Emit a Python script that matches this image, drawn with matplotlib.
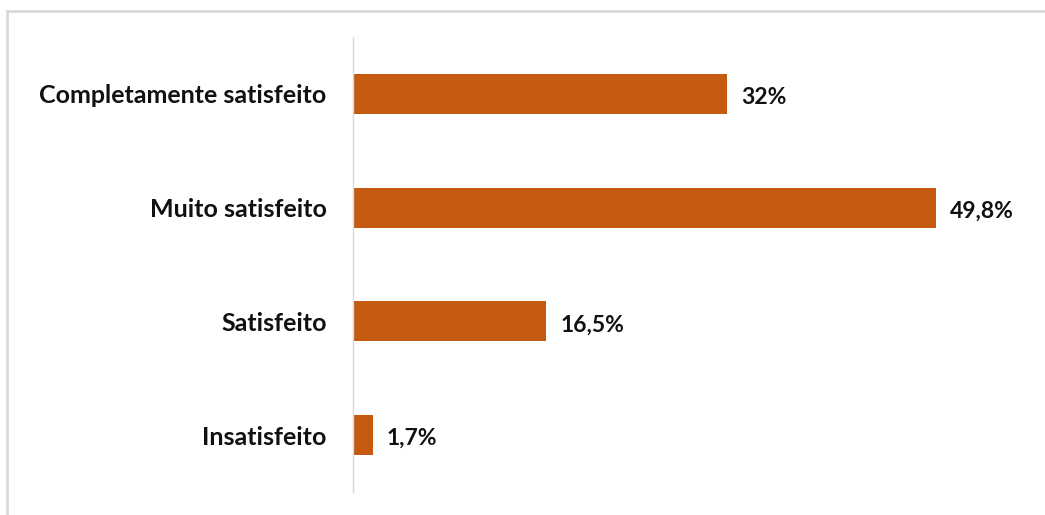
import matplotlib.pyplot as plt
from matplotlib.lines import Line2D

categorias = ["Completamente satisfeito", "Muito satisfeito", "Satisfeito", "Insatisfeito"]
valores = [32.0, 49.8, 16.5, 1.7]
rotulos = ["32%", "49,8%", "16,5%", "1,7%"]

plt.rcParams['font.family'] = ['Lato', 'DejaVu Sans']

fig = plt.figure(figsize=(10.45, 5.15), dpi=100)
ax = fig.add_axes([353 / 1045, 1 - 492 / 515, (1000 - 353) / 1045, (492 - 37) / 515])

pos = list(range(len(categorias)))
ax.barh(pos, valores, height=0.35, color="#C55A11")
for p, v, r in zip(pos, valores, rotulos):
    ax.text(v + 1.2, p + 0.03, r, va="center", ha="left", fontsize=16.5,
            fontweight="bold", color="#111111")

ax.set_ylim(3.5, -0.5)
ax.set_xlim(0, (1000 - 353) / 11.7)
ax.set_yticks(pos)
ax.set_yticklabels(categorias, fontsize=18, fontweight="bold", color="#111111")
ax.tick_params(axis="y", length=0, pad=19)
ax.set_xticks([])
for s in ["top", "right", "bottom"]:
    ax.spines[s].set_visible(False)
ax.spines["left"].set_color("#d9d9d9")
ax.spines["left"].set_linewidth(1)

# moldura cinza clara do gráfico
fig.add_artist(Line2D([7 / 1045, 1], [1 - 11 / 515, 1 - 11 / 515],
                      transform=fig.transFigure, color="#d9d9d9", lw=2))
fig.add_artist(Line2D([7 / 1045, 7 / 1045], [0, 1 - 11 / 515],
                      transform=fig.transFigure, color="#d9d9d9", lw=2))

fig.savefig("out.png", dpi=100)
